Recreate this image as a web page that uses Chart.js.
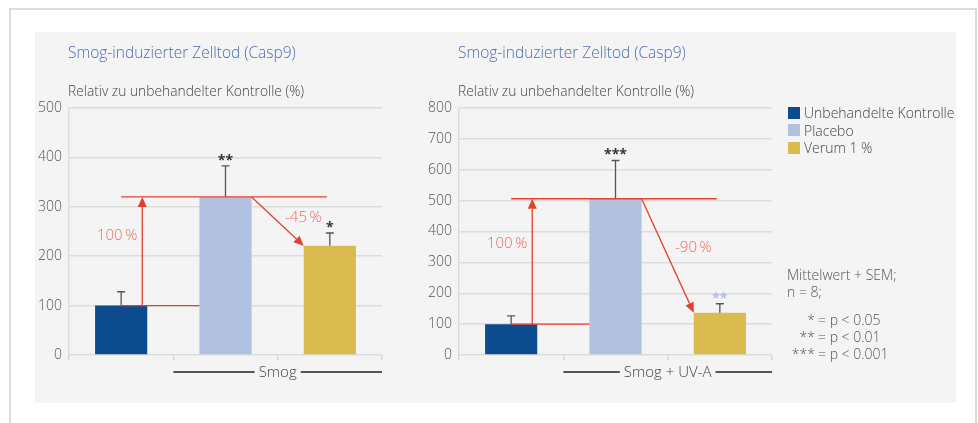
<!DOCTYPE html>
<html>
<head>
<meta charset="utf-8">
<script src="https://cdn.jsdelivr.net/npm/chart.js@4.4.0/dist/chart.umd.min.js"></script>
<style>
    body { margin: 0; width: 978px; height: 423px; background: #fff; position: relative; overflow: hidden; font-family: 'Open Sans', sans-serif; font-weight: 300; }
    #frame { position: absolute; left: 9px; top: 8px; width: 968px; height: 440px; border: 2px solid #dcdcdc; box-sizing: border-box; }
    #panel { position: absolute; left: 35px; top: 32px; width: 921px; height: 371px; background: #f4f4f4; }
    canvas { position: absolute; top: 30px; }
    #smogChart { left: 20px; }
    #uvaChart { left: 410px; }
    #legend { position: absolute; left: 788px; top: 104px; font-size: 14px; color: #444; line-height: 17.5px; }
    #legend div { display: flex; align-items: center; white-space: nowrap; }
    #legend span.box { display: inline-block; width: 12px; height: 12px; margin-right: 4px; }
    #notes { position: absolute; left: 787px; top: 266px; font-size: 14px; color: #555; line-height: 17px; white-space: nowrap; }
    #notes .sig { display: flex; }
    #notes .sig .s { width: 28px; text-align: right; padding-right: 3px; }
</style>
</head>
<body>
<div id="frame"></div>
<div id="panel"></div>
<canvas id="smogChart" width="390" height="370"></canvas>
<canvas id="uvaChart" width="390" height="370"></canvas>
<div id="legend"></div>
<div id="notes"></div>
<script>
const categories = ['Unbehandelte Kontrolle', 'Placebo', 'Verum 1 %']
const barColors = ['#0d4b8f', '#b2c1df', '#d9bb50']

const chartTitle = 'Smog-induzierter Zelltod (Casp9)'
const axisCaption = 'Relativ zu unbehandelter Kontrolle (%)'

const smogValues = [100, 320, 221]
const smogErrors = [28, 63, 26]
const smogStars = ['', '**', '*']
const smogStarColors = ['#333', '#333', '#333']
const smogChanges = ['100\u2009%', '-45\u2009%']
const smogGroup = 'Smog'
const smogMax = 500

const uvaValues = [100, 506, 137]
const uvaErrors = [27, 124, 29]
const uvaStars = ['', '***', '**']
const uvaStarColors = ['#333', '#333', '#aebfe0']
const uvaChanges = ['100\u2009%', '-90\u2009%']
const uvaGroup = 'Smog + UV-A'
const uvaMax = 800

const noteLines = ['Mittelwert + SEM;', 'n = 8;']
const sigStars = ['*', '**', '***']
const sigTexts = ['= p < 0.05', '= p < 0.01', '= p < 0.001']

const red = '#e5402f'
const redText = '#ec6b5c'

function drawArrow(ctx, x1, y1, x2, y2) {
    const ang = Math.atan2(y2 - y1, x2 - x1)
    const len = 10, half = 4.5
    const bx = x2 - len * Math.cos(ang), by = y2 - len * Math.sin(ang)
    ctx.beginPath()
    ctx.moveTo(x1, y1)
    ctx.lineTo(bx, by)
    ctx.stroke()
    ctx.beginPath()
    ctx.moveTo(x2, y2)
    ctx.lineTo(bx + half * Math.sin(ang), by - half * Math.cos(ang))
    ctx.lineTo(bx - half * Math.sin(ang), by + half * Math.cos(ang))
    ctx.closePath()
    ctx.fill()
}

const annotate = {
    id: 'annotate',
    afterDraw(chart, args, opts) {
        const ctx = chart.ctx
        const y = chart.scales.y
        const area = chart.chartArea
        const bars = chart.getDatasetMeta(0).data
        const vals = opts.values, errs = opts.errors

        ctx.save()
        // titles
        ctx.textBaseline = 'middle'
        ctx.textAlign = 'left'
        ctx.fillStyle = '#4a6ea9'
        ctx.font = "300 15.5px 'Open Sans'"
        ctx.fillText(chartTitle, area.left - 1, 24)
        ctx.fillStyle = '#444'
        ctx.font = "300 13.8px 'Open Sans'"
        ctx.fillText(axisCaption, area.left - 1, 62)

        // error bars + stars
        ctx.strokeStyle = '#555'
        ctx.lineWidth = 1.3
        bars.forEach((b, i) => {
            const top = y.getPixelForValue(vals[i] + errs[i])
            ctx.beginPath()
            ctx.moveTo(b.x, b.y)
            ctx.lineTo(b.x, top)
            ctx.moveTo(b.x - 4, top)
            ctx.lineTo(b.x + 4, top)
            ctx.stroke()
            if (opts.stars[i]) {
                ctx.fillStyle = opts.starColors[i]
                ctx.font = "bold 14px 'Open Sans'"
                ctx.textAlign = 'center'
                ctx.textBaseline = 'top'
                ctx.fillText(opts.stars[i], b.x, top - 12)
            }
        })

        // red change markers
        const yCtrl = y.getPixelForValue(vals[0])
        const yPl = y.getPixelForValue(vals[1])
        const yVer = y.getPixelForValue(vals[2])
        const b0 = bars[0], b1 = bars[1], b2 = bars[2]
        ctx.strokeStyle = red
        ctx.fillStyle = red
        ctx.lineWidth = 1.3
        ctx.beginPath()
        ctx.moveTo(b0.x, yPl)
        ctx.lineTo(b2.x - 3, yPl)
        ctx.moveTo(b0.x, yCtrl)
        ctx.lineTo(b1.x - b1.width / 2, yCtrl)
        ctx.stroke()
        const ax = b0.x + b0.width / 2 - 5
        drawArrow(ctx, ax, yCtrl, ax, yPl)
        const dx1 = b1.x + b1.width / 2, dx2 = b2.x - b2.width / 2
        drawArrow(ctx, dx1, yPl, dx2, yVer)

        ctx.fillStyle = redText
        ctx.font = "300 15px 'Open Sans'"
        ctx.textBaseline = 'middle'
        ctx.textAlign = 'right'
        ctx.fillText(opts.changes[0], ax - 5, yCtrl + (yPl - yCtrl) * 0.64)
        ctx.textAlign = 'left'
        const t = 0.43
        ctx.fillText(opts.changes[1], dx1 + (dx2 - dx1) * t + 11, yPl + (yVer - yPl) * t)

        // group label under the treated bars
        const gx1 = (b0.x + b1.x) / 2, gx2 = area.right
        const gy = area.bottom + 17
        ctx.font = "300 15px 'Open Sans'"
        ctx.textAlign = 'center'
        const tw = ctx.measureText(opts.group).width
        const mid = (gx1 + gx2) / 2
        ctx.strokeStyle = '#222'
        ctx.lineWidth = 1.4
        ctx.beginPath()
        ctx.moveTo(gx1, gy)
        ctx.lineTo(mid - tw / 2 - 4, gy)
        ctx.moveTo(mid + tw / 2 + 4, gy)
        ctx.lineTo(gx2, gy)
        ctx.stroke()
        ctx.fillStyle = '#444'
        ctx.fillText(opts.group, mid, gy + 1)
        ctx.restore()
    }
}

function makeChart(id, values, errors, stars, starColors, changes, group, max) {
    return new Chart(document.getElementById(id), {
        type: 'bar',
        data: {
            labels: categories,
            datasets: [{
                data: values,
                backgroundColor: barColors,
                barPercentage: 0.5,
                categoryPercentage: 1,
            }],
        },
        options: {
            responsive: false,
            animation: false,
            layout: { padding: { top: 78, right: 28, bottom: 40, left: 0 } },
            scales: {
                x: {
                    ticks: { display: false },
                    grid: { offset: true, drawOnChartArea: false, tickLength: 5, color: '#d6d6d6', lineWidth: 1.5 },
                    border: { display: false },
                    afterFit: (s) => { s.height = 5 },
                },
                y: {
                    min: 0,
                    max: max,
                    ticks: { stepSize: 100, color: '#555', padding: 7, font: { family: 'Open Sans', size: 14, weight: 300 } },
                    grid: { color: '#dcdcdc', lineWidth: 1.5, drawTicks: false },
                    border: { color: '#dcdcdc', width: 1.5 },
                    afterFit: (s) => { s.width = 49 },
                },
            },
            plugins: {
                legend: { display: false },
                tooltip: { enabled: false },
                annotate: { values, errors, stars, starColors, changes, group },
            },
        },
        plugins: [annotate],
    })
}

makeChart('smogChart', smogValues, smogErrors, smogStars, smogStarColors, smogChanges, smogGroup, smogMax)
makeChart('uvaChart', uvaValues, uvaErrors, uvaStars, uvaStarColors, uvaChanges, uvaGroup, uvaMax)

const legend = document.getElementById('legend')
categories.forEach((name, i) => {
    legend.insertAdjacentHTML('beforeend', `<div><span class="box" style="background:${barColors[i]}"></span>${name}</div>`)
})
const notes = document.getElementById('notes')
noteLines.forEach((line) => notes.insertAdjacentHTML('beforeend', `<div>${line}</div>`))
notes.insertAdjacentHTML('beforeend', '<div style="height:11px"></div>')
sigStars.forEach((s, i) => {
    notes.insertAdjacentHTML('beforeend', `<div class="sig"><span class="s">${s}</span><span>${sigTexts[i].replace(/</g, '&lt;')}</span></div>`)
})
</script>
</body>
</html>
